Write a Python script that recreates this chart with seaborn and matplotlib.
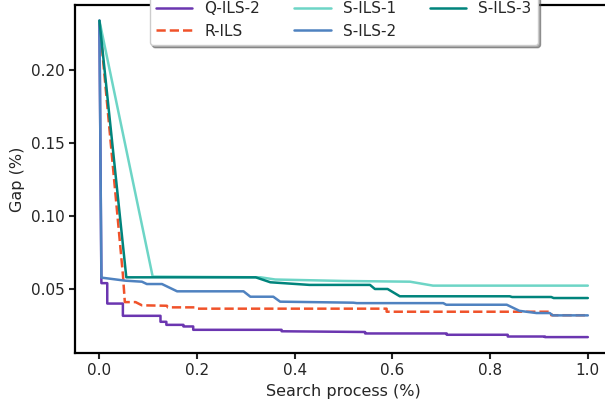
import matplotlib
matplotlib.use("Agg")
import matplotlib.pyplot as plt
import seaborn as sns
import pandas as pd

# vertices of each convergence curve (search progress, gap)
q_ils2_x = [0, 0.004, 0.016, 0.016, 0.048, 0.048, 0.125, 0.125, 0.137, 0.137, 0.172, 0.172,
            0.192, 0.192, 0.373, 0.373, 0.544, 0.544, 0.711, 0.711, 0.836, 0.836, 0.912, 0.912, 1.0]
q_ils2_y = [0.234, 0.054, 0.054, 0.040, 0.040, 0.0316, 0.0316, 0.0275, 0.0275, 0.0254, 0.0254, 0.0243,
            0.0243, 0.022, 0.022, 0.021, 0.0205, 0.0195, 0.0195, 0.0186, 0.0186, 0.0174, 0.0174, 0.017, 0.017]

r_ils_x = [0, 0.048, 0.052, 0.074, 0.087, 0.138, 0.14, 0.196, 0.2, 0.588, 0.588, 0.925, 0.925, 1.0]
r_ils_y = [0.234, 0.060, 0.041, 0.041, 0.0388, 0.0385, 0.0374, 0.0374, 0.0365, 0.0365, 0.0344, 0.0344, 0.032, 0.032]

s_ils1_x = [0, 0.109, 0.33, 0.36, 0.5, 0.636, 0.683, 1.0]
s_ils1_y = [0.234, 0.0585, 0.058, 0.0565, 0.0555, 0.055, 0.0523, 0.0523]

s_ils2_x = [0, 0.004, 0.053, 0.087, 0.097, 0.128, 0.159, 0.295, 0.309, 0.356, 0.37, 0.52, 0.527,
            0.704, 0.71, 0.834, 0.86, 0.895, 0.922, 0.928, 1.0]
s_ils2_y = [0.234, 0.0578, 0.0557, 0.055, 0.0534, 0.0534, 0.0484, 0.0484, 0.0447, 0.0447, 0.0413, 0.0406, 0.0403,
            0.0403, 0.0392, 0.0392, 0.035, 0.0335, 0.0335, 0.0319, 0.0319]

s_ils3_x = [0, 0.055, 0.32, 0.35, 0.43, 0.554, 0.564, 0.59, 0.615, 0.84, 0.845, 0.925, 0.93, 1.0]
s_ils3_y = [0.234, 0.058, 0.058, 0.0546, 0.0528, 0.0528, 0.050, 0.050, 0.045, 0.045, 0.0445, 0.0445, 0.0438, 0.0438]

names = ["Q-ILS-2", "R-ILS", "S-ILS-1", "S-ILS-2", "S-ILS-3"]
xs = [q_ils2_x, r_ils_x, s_ils1_x, s_ils2_x, s_ils3_x]
ys = [q_ils2_y, r_ils_y, s_ils1_y, s_ils2_y, s_ils3_y]
colors = ["#6b36b0", "#f0522a", "#6dd5c6", "#4f82c0", "#00847c"]
styles = ["-", "--", "-", "-", "-"]

sns.set_theme(style="ticks")
plt.rcParams["font.family"] = ["DejaVu Sans"]

fig = plt.figure(figsize=(6.05, 4.08), dpi=100)
ax = fig.add_axes([0.124, 0.135, 0.888, 0.853])

for name, x, y, c, ls in zip(names, xs, ys, colors, styles):
    df = pd.DataFrame({"x": x, "y": y})
    sns.lineplot(data=df, x="x", y="y", estimator=None, sort=False, ax=ax,
                 color=c, linestyle=ls, linewidth=1.8, label=name)

ax.set_xlabel("Search process (%)", fontsize=11.5)
ax.set_ylabel("Gap (%)", fontsize=11.5)
ax.set_yticks([0.05, 0.10, 0.15, 0.20])
ax.set_yticklabels(["0.05", "0.10", "0.15", "0.20"])
ax.tick_params(labelsize=11, length=4, width=1.5)
for s in ax.spines.values():
    s.set_linewidth(1.6)
    s.set_color("black")

ax.legend(loc="lower center", bbox_to_anchor=(0.5, 0.885), borderaxespad=0,
          ncol=3, fontsize=11, shadow=True, handlelength=2.4, columnspacing=2.2,
          frameon=True)

fig.savefig("out.png", dpi=100)
